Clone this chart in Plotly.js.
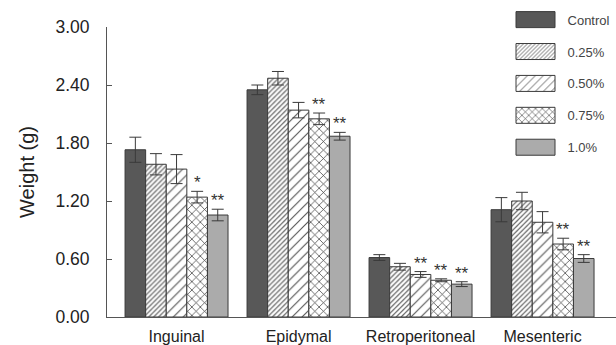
<!DOCTYPE html>
<html><head><meta charset="utf-8">
<script src="https://cdn.plot.ly/plotly-3.0.1.min.js"></script>
<style>html,body{margin:0;padding:0;background:#fff}#chart{width:616px;height:345px}</style>
</head><body><div id="chart"></div>
<script>
// ---- data ----
const depots = ['Inguinal', 'Epidymal', 'Retroperitoneal', 'Mesenteric'];
const groups = ['Control', '0.25%', '0.50%', '0.75%', '1.0%'];
const control = [1.73, 2.35, 0.615, 1.11];
const dose025 = [1.58, 2.47, 0.52, 1.20];
const dose050 = [1.53, 2.14, 0.44, 0.98];
const dose075 = [1.24, 2.05, 0.38, 0.755];
const dose100 = [1.055, 1.87, 0.34, 0.605];
const errControl = [0.13, 0.05, 0.03, 0.125];
const err025 = [0.11, 0.07, 0.035, 0.09];
const err050 = [0.15, 0.08, 0.03, 0.11];
const err075 = [0.06, 0.06, 0.015, 0.06];
const err100 = [0.06, 0.04, 0.025, 0.04];
const starsControl = ['', '', '', ''];
const stars025 = ['', '', '', ''];
const stars050 = ['', '', '**', ''];
const stars075 = ['*', '**', '**', '**'];
const stars100 = ['**', '**', '**', '**'];

const values = [control, dose025, dose050, dose075, dose100];
const errors = [errControl, err025, err050, err075, err100];
const stars = [starsControl, stars025, stars050, stars075, stars100];

const styles = [
  {color: '#585858', pattern: {shape: ''}},
  {color: '#ffffff', pattern: {shape: '/', fgcolor: '#666666', bgcolor: '#ffffff', size: 3.5, solidity: 0.35}},
  {color: '#ffffff', pattern: {shape: '/', fgcolor: '#555555', bgcolor: '#ffffff', size: 7, solidity: 0.16}},
  {color: '#ffffff', pattern: {shape: 'x', fgcolor: '#333333', bgcolor: '#ffffff', size: 6, solidity: 0.22}},
  {color: '#ababab', pattern: {shape: ''}}
];

const bargap = 0.156;
const font = 'Liberation Sans, Arial, sans-serif';

const traces = groups.map((g, i) => ({
  type: 'bar', name: g, x: depots, y: values[i], legendgroup: g,
  marker: {color: styles[i].color, pattern: styles[i].pattern, line: {color: '#3a3a3a', width: 1}},
  error_y: {type: 'data', array: errors[i], visible: true, color: '#3a3a3a', thickness: 1, width: 6}
}));

const annotations = [];
const n = groups.length;
const bw = (1 - bargap) / n;
stars.forEach((arr, i) => {
  arr.forEach((s, j) => {
    if (!s) return;
    annotations.push({
      x: j - (1 - bargap) / 2 + bw * (i + 0.5), y: values[i][j] + errors[i][j],
      xref: 'x', yref: 'y', text: s, showarrow: false, yanchor: 'bottom', yshift: -3,
      font: {family: font, size: 17, color: '#333'}
    });
  });
});

const layout = {
  width: 616, height: 345,
  margin: {l: 107, r: 0, t: 27, b: 28, autoexpand: false},
  paper_bgcolor: '#fff', plot_bgcolor: '#fff',
  barmode: 'group', bargap: bargap, bargroupgap: 0,
  font: {family: font, color: '#333'},
  showlegend: true,
  legend: {x: 0.779, y: 1.077, xanchor: 'left', yanchor: 'top', traceorder: 'grouped', tracegroupgap: 12,
           font: {family: font, size: 13, color: '#444'}, bgcolor: 'rgba(0,0,0,0)', itemwidth: 54},
  xaxis: {type: 'category', range: [-0.57, 3.602], showline: true, linecolor: '#555', linewidth: 1,
          ticks: '', ticklabelstandoff: 5, tickfont: {family: font, size: 16, color: '#222'},
          showgrid: false, zeroline: false},
  yaxis: {range: [0, 3], tickvals: [0, 0.6, 1.2, 1.8, 2.4, 3.0], ticktext: ['0.00', '0.60', '1.20', '1.80', '2.40', '3.00'],
          showline: true, linecolor: '#555', linewidth: 1, ticks: 'inside', ticklen: 5, tickcolor: '#555',
          ticklabelstandoff: 13, tickfont: {family: font, size: 17.5, color: '#222'},
          showgrid: false, zeroline: false,
          title: {text: 'Weight (g)', font: {family: font, size: 20, color: '#222'}, standoff: 15}},
  annotations: annotations
};

Plotly.newPlot('chart', traces, layout, {staticPlot: true}).then(gd => {
  // enlarge legend swatches to match the reference's wide boxes
  gd.querySelectorAll('.legend .legendpoints path').forEach(p => {
    p.setAttribute('d', 'M19.5,8H-19.5V-8H19.5Z');
  });
});
</script></body></html>
